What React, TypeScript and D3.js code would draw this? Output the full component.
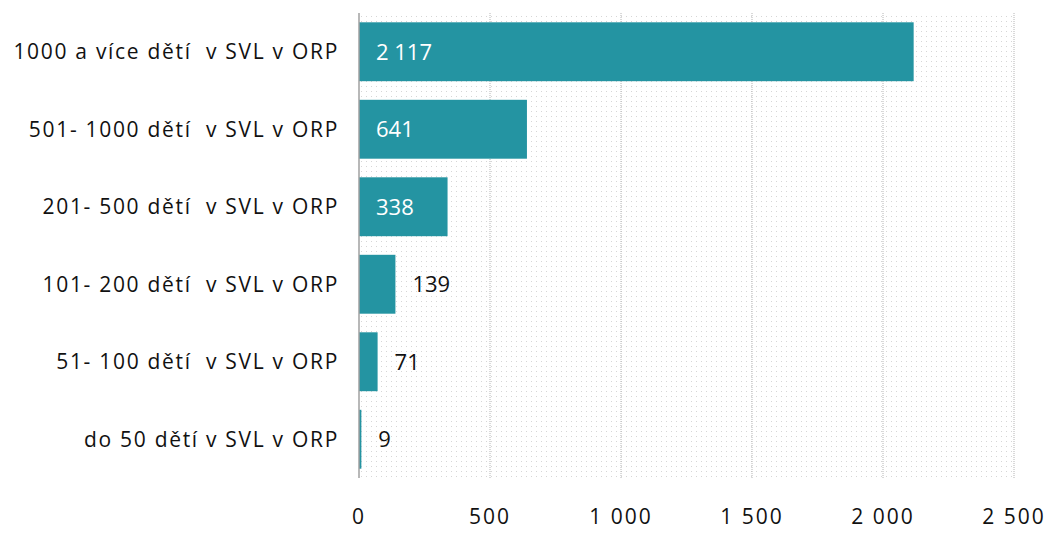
import * as d3 from 'd3';
import * as React from 'react';

const categories = [
    '1000 a více dětí  v SVL v ORP',
    '501- 1000 dětí  v SVL v ORP',
    '201- 500 dětí  v SVL v ORP',
    '101- 200 dětí  v SVL v ORP',
    '51- 100 dětí  v SVL v ORP',
    'do 50 dětí v SVL v ORP',
];
const values = [2117, 641, 338, 139, 71, 9];
const ticks = [0, 500, 1000, 1500, 2000, 2500];

const width = 1051;
const height = 533;
const margin = { top: 13, right: 37, bottom: 55, left: 359 };
const barColor = '#2494a2';
const font = '"Open Sans", Lato, sans-serif';

// space as thousands separator, like the source
const fmt = (v: number) => d3.format(',')(v).replace(/,/g, ' ');

export default function App() {
    const x = d3.scaleLinear()
        .domain([0, 2500])
        .range([margin.left, width - margin.right]);
    const y = d3.scaleBand()
        .domain(categories)
        .range([margin.top, height - margin.bottom])
        .paddingInner(0.24)
        .paddingOuter(0.12);

    const plotTop = margin.top;
    const plotBottom = height - margin.bottom;

    return (
        <svg width={width} height={height} style={{ position: 'absolute', left: 0, top: 0 }}>
            <defs>
                <pattern id="dots" width="5" height="5" patternUnits="userSpaceOnUse">
                    <rect x="1" y="1" width="1" height="1" fill="#d6d6d6" />
                </pattern>
            </defs>
            <rect
                x={x(0)}
                y={plotTop}
                width={x(2500) - x(0)}
                height={plotBottom - plotTop}
                fill="url(#dots)"
            />
            {ticks.slice(1).map(t => (
                <line
                    key={t}
                    x1={x(t)}
                    x2={x(t)}
                    y1={plotTop}
                    y2={plotBottom}
                    stroke="#b4b4b4"
                    strokeDasharray="1,1"
                />
            ))}
            {categories.map((c, i) => {
                const v = values[i];
                const by = y(c) as number;
                const bw = x(v) - x(0);
                const inside = v > 300;
                return (
                    <g key={c}>
                        <rect x={x(0)} y={by} width={Math.max(bw, 2)} height={y.bandwidth()} fill={barColor} />
                        <text
                            x={inside ? x(0) + 17 : x(v) + 17}
                            y={by + y.bandwidth() / 2}
                            dy="0.36em"
                            fill={inside ? '#ffffff' : '#111'}
                            fontFamily={font}
                            fontSize={22}
                        >
                            {fmt(v)}
                        </text>
                        <text
                            x={margin.left - 20}
                            y={by + y.bandwidth() / 2}
                            dy="0.36em"
                            textAnchor="end"
                            fill="#111"
                            fontFamily={font}
                            fontSize={21}
                            letterSpacing={1.7}
                            style={{ whiteSpace: 'pre' }}
                        >
                            {c}
                        </text>
                    </g>
                );
            })}
            <line x1={x(0)} x2={x(0)} y1={plotTop} y2={plotBottom} stroke="#a0a0a0" strokeWidth={1.5} />
            {ticks.map(t => (
                <text
                    key={t}
                    x={x(t)}
                    y={plotBottom + 46}
                    textAnchor="middle"
                    fill="#111"
                    fontFamily={font}
                    fontSize={21}
                    letterSpacing={2}
                    style={{ whiteSpace: 'pre' }}
                >
                    {fmt(t)}
                </text>
            ))}
        </svg>
    );
}
